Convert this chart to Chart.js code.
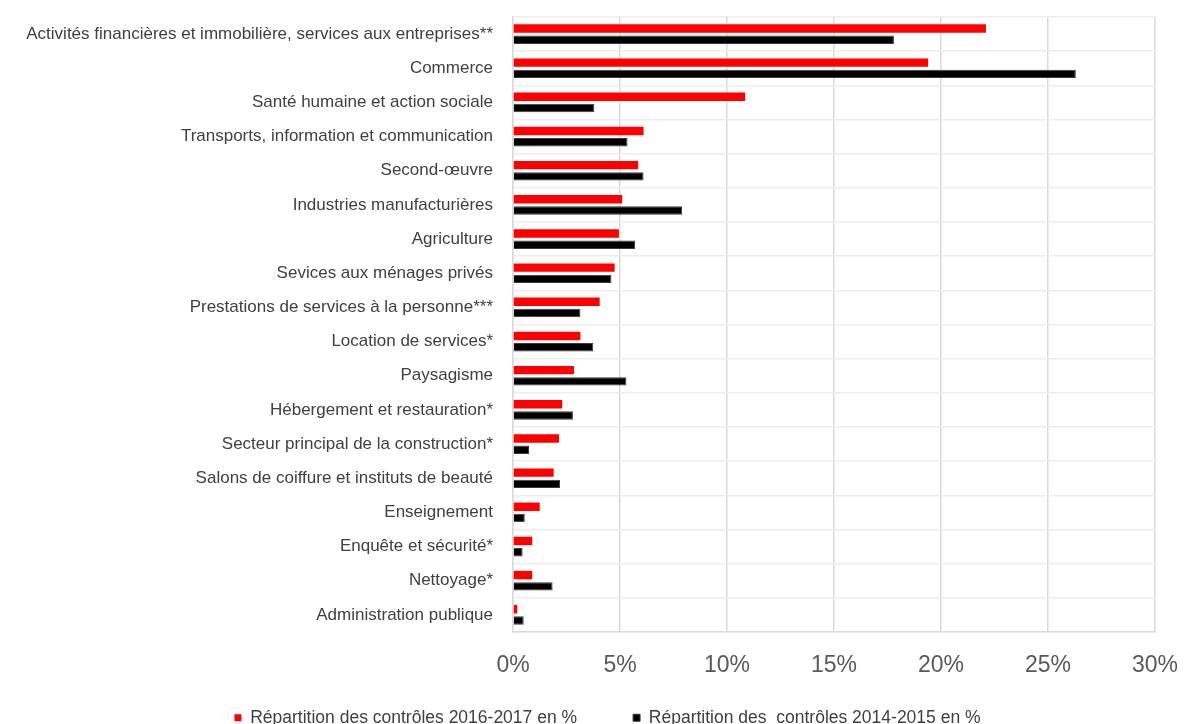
<!DOCTYPE html>
<html lang="fr">
<head>
<meta charset="utf-8">
<title>Répartition des contrôles par secteur</title>
<script src="https://cdn.jsdelivr.net/npm/chart.js@4.4.1/dist/chart.umd.min.js"></script>
<style>
    html, body { margin: 0; padding: 0; background: #ffffff; }
    #wrap { position: relative; width: 1184px; height: 724px; }
</style>
</head>
<body>
<div id="wrap"><canvas id="secteursChart"></canvas></div>
<script>
// Secteurs d'activité (ordre d'affichage, de haut en bas)
var secteurs = [
    'Activités financières et immobilière, services aux entreprises**',
    'Commerce',
    'Santé humaine et action sociale',
    'Transports, information et communication',
    'Second-œuvre',
    'Industries manufacturières',
    'Agriculture',
    'Sevices aux ménages privés',
    'Prestations de services à la personne***',
    'Location de services*',
    'Paysagisme',
    'Hébergement et restauration*',
    'Secteur principal de la construction*',
    'Salons de coiffure et instituts de beauté',
    'Enseignement',
    'Enquête et sécurité*',
    'Nettoyage*',
    'Administration publique'
];

// Part des contrôles, en %
var controles20162017 = [22.1, 19.4, 10.85, 6.1, 5.85, 5.1, 4.95, 4.75, 4.05, 3.15, 2.85, 2.3, 2.15, 1.9, 1.25, 0.9, 0.9, 0.2];
var controles20142015 = [17.8, 26.3, 3.8, 5.35, 6.1, 7.9, 5.7, 4.6, 3.15, 3.75, 5.3, 2.8, 0.75, 2.2, 0.55, 0.45, 1.85, 0.5];

// Axe des pourcentages
var axeMin = 0;
var axeMax = 30;
var axePas = 5;

var colors = {
    rouge: '#ff0000',
    noir: '#000000',
    texte: '#404040',
    axe: '#595959',
    grille: '#d9d9d9',
    grilleLegere: '#ededed'
};

var police = '"Liberation Sans", Arial, sans-serif';

// La légende garde un grand écart entre ses deux entrées (labels.padding),
// qui sert aussi de marge verticale : on replace sa boîte après la mise en page.
var placementLegende = {
    id: 'placementLegende',
    afterLayout: function (chart) {
        var legende = chart.legend;
        if (!legende || !chart.chartArea) {
            return;
        }
        legende.top = chart.chartArea.bottom + 21;
        legende.bottom = chart.height;
        legende.left += 30;
        legende.right += 30;
    }
};

new Chart(document.getElementById('secteursChart'), {
    type: 'bar',
    data: {
        labels: secteurs,
        datasets: [{
            label: 'Répartition des contrôles 2016-2017 en %',
            data: controles20162017,
            backgroundColor: colors.rouge,
            borderColor: colors.rouge,
            borderWidth: 0,
            categoryPercentage: 0.66,
            barPercentage: 0.75
        }, {
            label: 'Répartition des  contrôles 2014-2015 en %',
            data: controles20142015,
            backgroundColor: colors.noir,
            borderColor: '#3a3a3a',
            borderWidth: 1,
            categoryPercentage: 0.66,
            barPercentage: 0.75
        }]
    },
    options: {
        indexAxis: 'y',
        responsive: true,
        maintainAspectRatio: false,
        animation: false,
        layout: {
            padding: { top: 17, right: 29, bottom: 0, left: 0 }
        },
        scales: {
            x: {
                min: axeMin,
                max: axeMax,
                afterFit: function (scale) {
                    scale.paddingLeft = 0;
                    scale.paddingRight = 0;
                },
                grid: {
                    color: colors.grille,
                    lineWidth: 1.5,
                    drawTicks: false
                },
                border: { color: colors.grille, width: 1.5 },
                ticks: {
                    stepSize: axePas,
                    padding: 20,
                    color: colors.axe,
                    font: { family: police, size: 23 },
                    callback: function (value) {
                        return value + '%';
                    }
                }
            },
            y: {
                afterFit: function (scale) {
                    scale.width = 513;
                    scale.paddingTop = 0;
                    scale.paddingBottom = 0;
                },
                grid: {
                    color: colors.grilleLegere,
                    lineWidth: 1.5,
                    drawTicks: false
                },
                border: { color: colors.grille, width: 1.5 },
                ticks: {
                    padding: 20,
                    color: colors.texte,
                    autoSkip: false,
                    font: { family: police, size: 17 }
                }
            }
        },
        plugins: {
            legend: {
                position: 'bottom',
                maxHeight: 24.4,
                labels: {
                    boxWidth: 7,
                    boxHeight: 7,
                    padding: 56,
                    color: colors.texte,
                    font: { family: police, size: 17.5 }
                }
            },
            tooltip: {
                callbacks: {
                    label: function (context) {
                        return context.dataset.label + ' : ' + context.parsed.x.toFixed(1) + '%';
                    }
                }
            }
        }
    },
    plugins: [placementLegende]
});
</script>
</body>
</html>
